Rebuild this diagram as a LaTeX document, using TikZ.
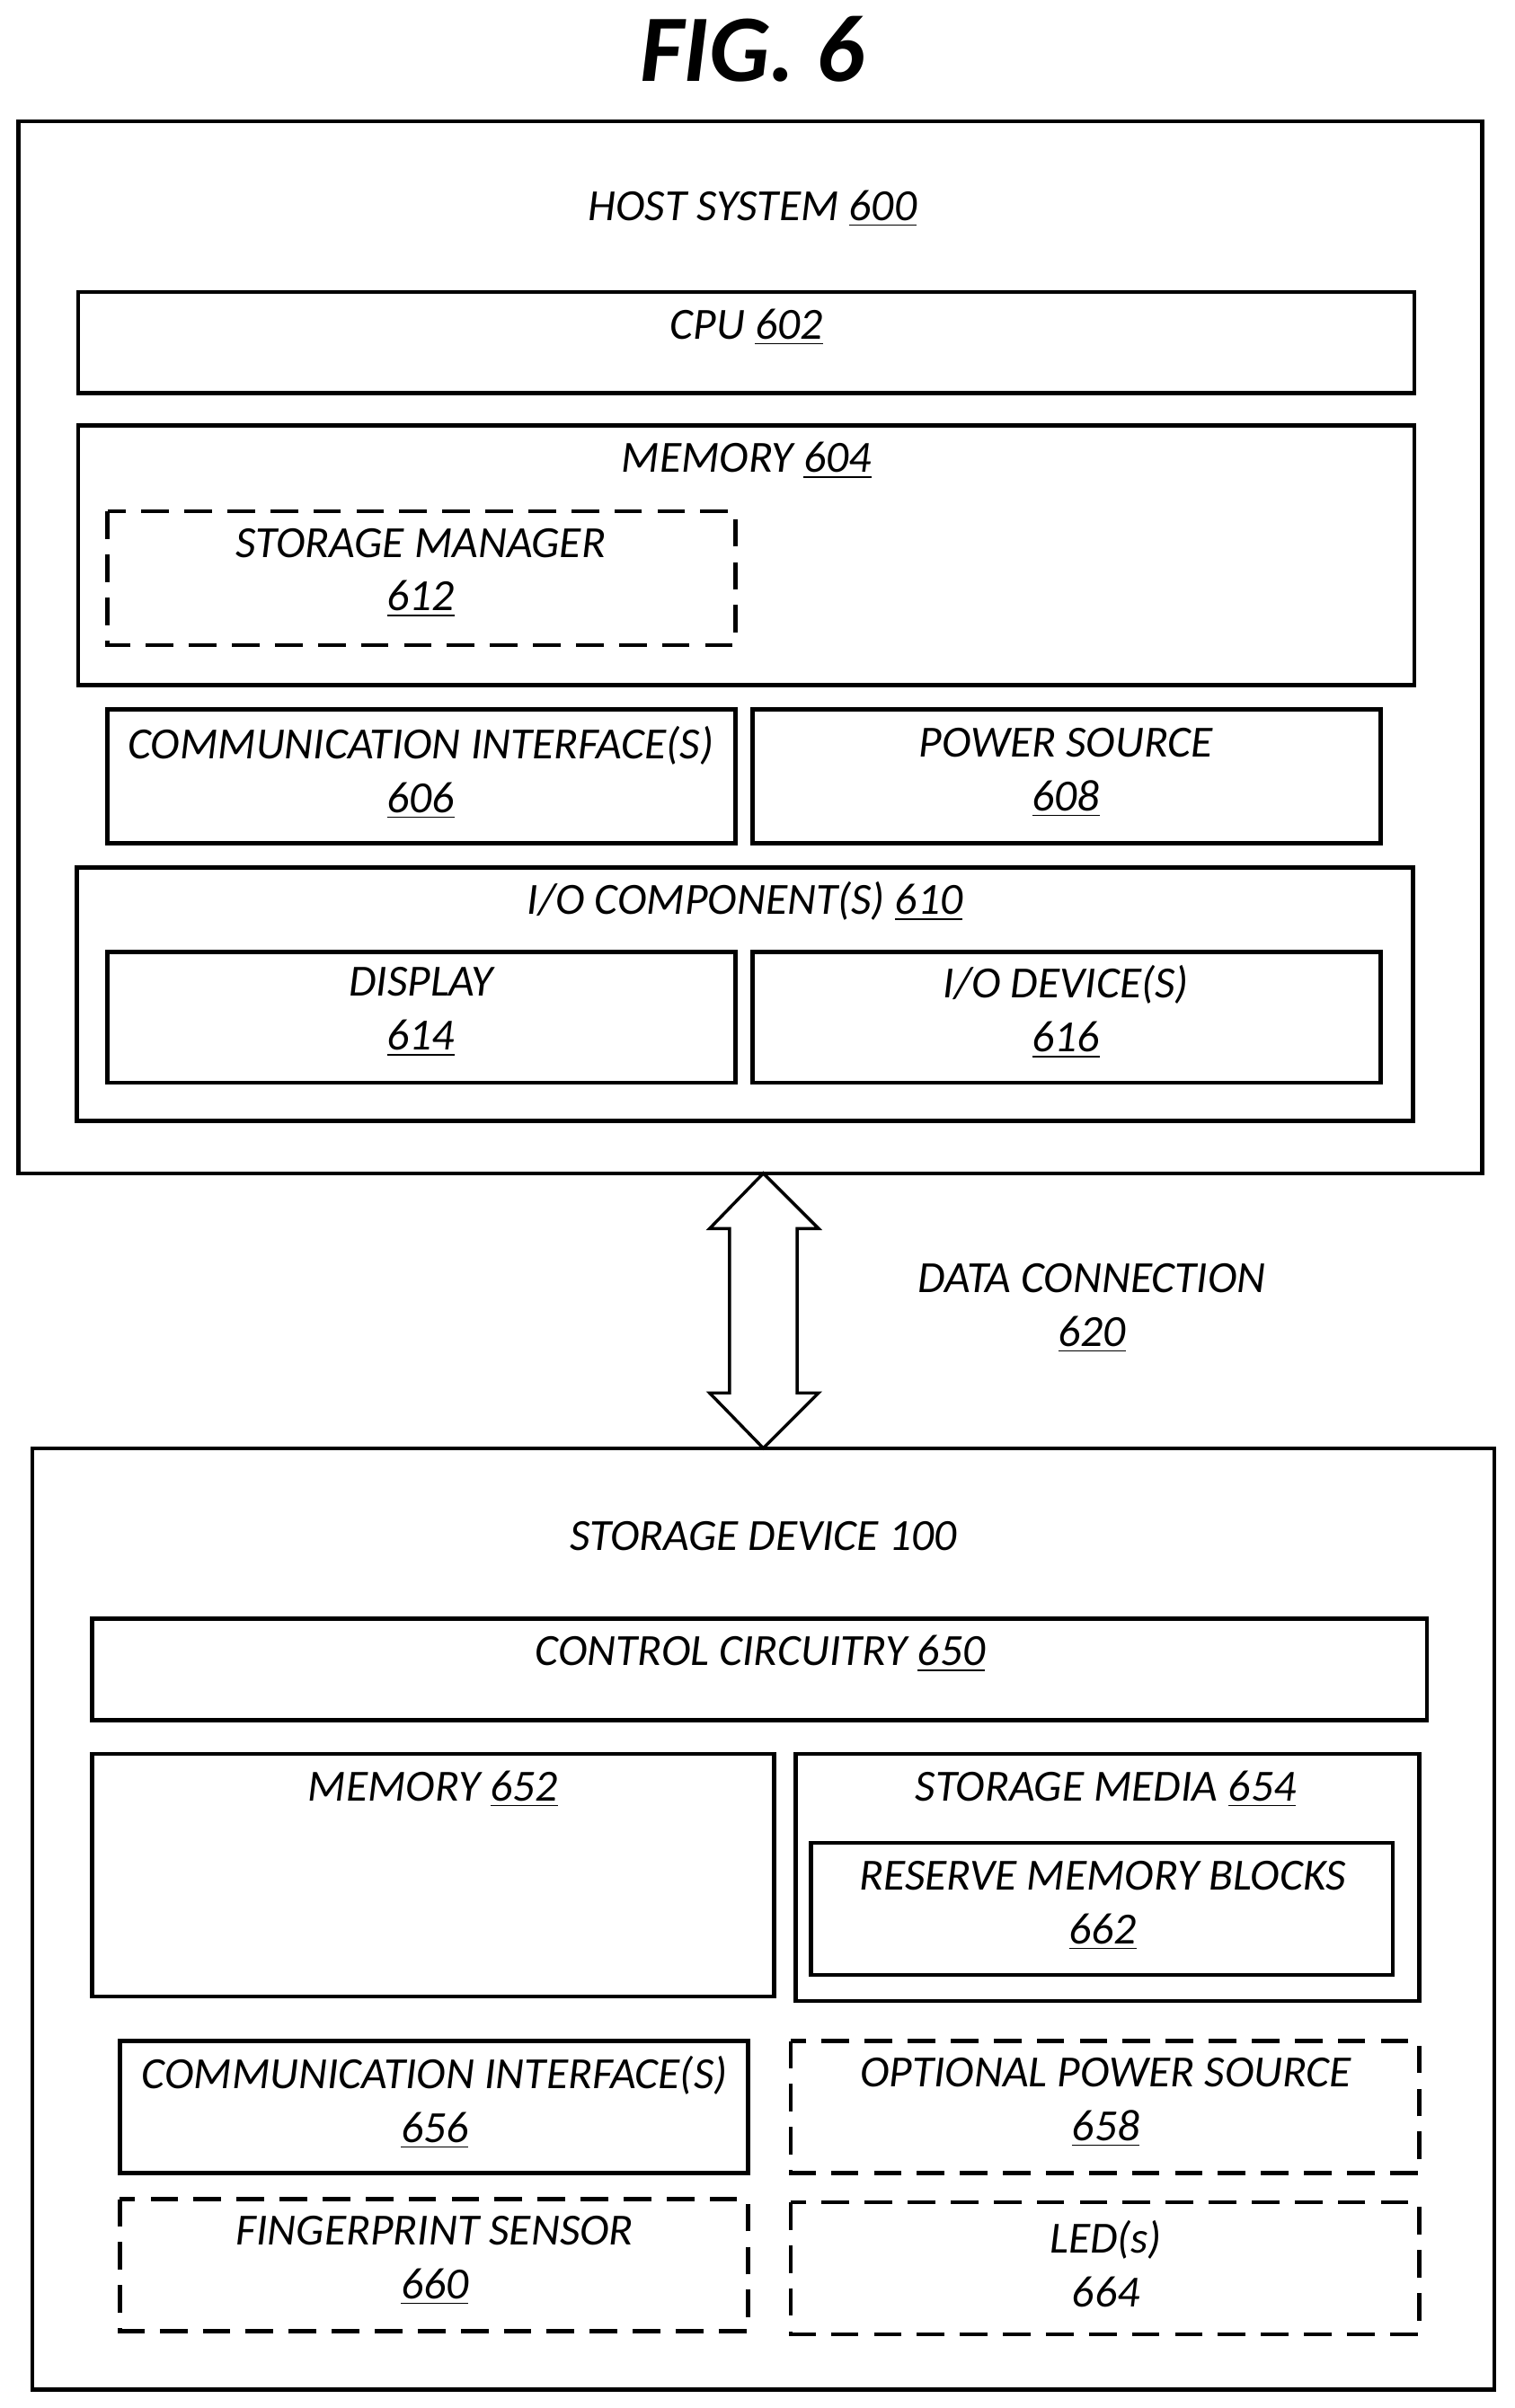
\documentclass[tikz,border=0pt]{standalone}
\usepackage{fontspec}
\setmainfont{Carlito}
\begin{document}
\begin{tikzpicture}[x=0.5pt,y=-0.5pt,
 box/.style={draw,line width=1.3pt},
 dbox/.style={draw,line width=1.3pt,dash pattern=on 9pt off 5pt},
 lbl/.style={font=\fontsize{14.5}{17.5}\selectfont\itshape,inner sep=0pt,align=center}]
\useasboundingbox (0,0) rectangle (986,1568);
\node[font=\fontsize{31}{34}\selectfont\bfseries\itshape] (fig) at (490,32) {FIG. 6};
% host
\draw[box] (12,79) rectangle (965,764);
\node[lbl] (host) at (490,136) {HOST SYSTEM \underline{600}};
\draw[box] (51,190) rectangle (921,256); \node[lbl] (cpu) at (486,213) {CPU \underline{602}};
\draw[box] (51,277) rectangle (921,446); \node[lbl] (mem) at (486,300) {MEMORY \underline{604}};
\draw[dbox] (70,333) rectangle (479,420); \node[lbl] (sm) at (274,373) {STORAGE MANAGER\\\underline{612}};
\draw[box] (70,462) rectangle (479,549); \node[lbl] (ci) at (274,503) {COMMUNICATION INTERFACE(S)\\\underline{606}};
\draw[box] (490,462) rectangle (899,549); \node[lbl] (ps) at (694,503) {POWER SOURCE\\\underline{608}};
\draw[box] (50,565) rectangle (920,730); \node[lbl] (io) at (485,587) {I/O COMPONENT(S) \underline{610}};
\draw[box] (70,620) rectangle (479,705); \node[lbl] (disp) at (274,659) {DISPLAY\\\underline{614}};
\draw[box] (490,620) rectangle (899,705); \node[lbl] (iod) at (694,659) {I/O DEVICE(S)\\\underline{616}};
% arrow
\coordinate (t1) at (497,764); \coordinate (t2) at (497,943);
\draw[line width=1pt,fill=white] (t1) -- (533,800) -- (519,800) -- (519,907) -- (533,907) -- (t2) -- (462,907) -- (475,907) -- (475,800) -- (462,800) -- cycle;
\node[lbl] (dc) at (711,852) {DATA CONNECTION\\\underline{620}};
% storage
\draw[box] (21,943) rectangle (973,1556);
\node[lbl] (sd) at (497,1000) {STORAGE DEVICE 100};
\draw[box] (60,1054) rectangle (929,1120); \node[lbl] (cc) at (495,1077) {CONTROL CIRCUITRY \underline{650}};
\draw[box] (60,1142) rectangle (504,1300); \node[lbl] (m2) at (282,1165) {MEMORY \underline{652}};
\draw[box] (518,1142) rectangle (924,1303); \node[lbl] (smd) at (720,1165) {STORAGE MEDIA \underline{654}};
\draw[box] (528,1200) rectangle (907,1286); \node[lbl] (rmb) at (718,1241) {RESERVE MEMORY BLOCKS\\\underline{662}};
\draw[box] (78,1329) rectangle (487,1415); \node[lbl] (ci2) at (283,1369) {COMMUNICATION INTERFACE(S)\\\underline{656}};
\draw[dbox] (515,1329) rectangle (924,1415); \node[lbl] (ops) at (720,1369) {OPTIONAL POWER SOURCE\\\underline{658}};
\draw[dbox] (78,1432) rectangle (487,1518); \node[lbl] (fp) at (283,1472) {FINGERPRINT SENSOR\\\underline{660}};
\draw[dbox] (515,1434) rectangle (924,1520); \node[lbl] (led) at (720,1474) {LED(s)\\664};
\end{tikzpicture}
\end{document}
